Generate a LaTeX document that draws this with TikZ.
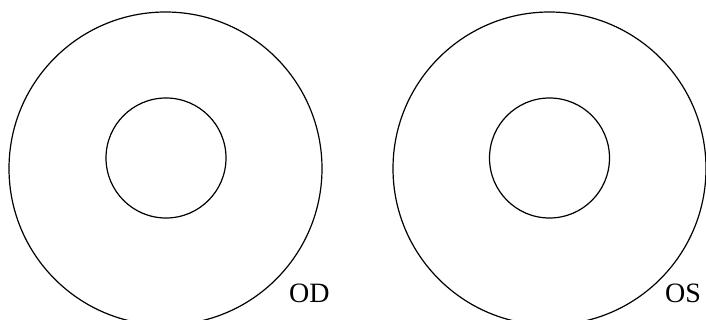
\documentclass[tikz,border=0pt]{standalone}
\usepackage{fontspec}
\setmainfont{Liberation Serif}
\usepackage{tikz}
\usetikzlibrary{positioning}
\tikzset{
  outerring/.style = {circle, draw, line width=1.2pt, minimum size=313pt, inner sep=0pt},
  innerring/.style = {circle, draw, line width=1.2pt, minimum size=120pt, inner sep=0pt},
  eyelabel/.style  = {anchor=base west, inner sep=0pt, font=\fontsize{28}{30}\selectfont},
}

\begin{document}
\begin{tikzpicture}[x=1pt, y=-1pt]

    %% Frame
    \useasboundingbox (0,0) rectangle (706,320);

    %% Right eye (OD)
    \node[outerring] (odOuter) at (165.5, 168.5) {};
    \node[innerring] (odInner) at (166,   158)   {};
    \node[eyelabel]  (odText)  at (289,   302)   {OD};

    %% Left eye (OS)
    \node[outerring] (osOuter) at (549.5, 168.5) {};
    \node[innerring] (osInner) at (549.5, 158)   {};
    \node[eyelabel]  (osText)  at (665,   302)   {OS};

\end{tikzpicture}
\end{document}
